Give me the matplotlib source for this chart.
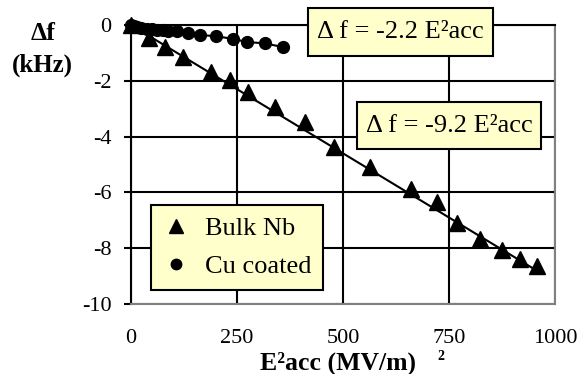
import matplotlib
matplotlib.use("Agg")
import matplotlib.pyplot as plt
from matplotlib.patches import Rectangle
from matplotlib.lines import Line2D
import numpy as np

plt.rcParams['font.family'] = ['Liberation Serif', 'DejaVu Serif']

# Bulk Nb data (E^2acc in (MV/m)^2, delta f in kHz)
nb_x = [0, 42, 80, 123, 189, 233, 276, 340, 410, 479, 564, 660, 722, 769, 823, 875, 917, 958]
nb_y = [0.0, -0.47, -0.79, -1.15, -1.69, -1.97, -2.41, -2.94, -3.48, -4.38, -5.10, -5.89,
        -6.36, -7.11, -7.68, -8.08, -8.37, -8.65]
# Cu coated data
cu_x = [0, 7, 14, 24, 38, 50, 61, 75, 87, 108, 134, 163, 200, 241, 274, 316, 358]
cu_y = [0.0, -0.05, -0.08, -0.10, -0.13, -0.15, -0.17, -0.19, -0.20, -0.22, -0.29, -0.36,
        -0.40, -0.50, -0.61, -0.66, -0.79]
# fit slopes (kHz per 1000 (MV/m)^2)
nb_slope = -9.2
cu_slope = -2.2

x_ticks = [0, 250, 500, 750, 1000]
y_ticks = [0, -2, -4, -6, -8, -10]

W, H = 578, 374
fig = plt.figure(figsize=(W / 100, H / 100), dpi=100)
ax = fig.add_axes([131 / W, 1 - 304 / H, (555 - 131) / W, (304 - 25) / H])

ax.set_xlim(0, 1000)
ax.set_ylim(-10, 0)
ax.set_xticks(x_ticks)
ax.set_yticks(y_ticks)
ax.set_xticklabels([str(v) for v in x_ticks], fontsize=16)
ax.set_yticklabels([str(v) for v in y_ticks], fontsize=16)
ax.tick_params(axis='x', length=0, pad=18)
ax.tick_params(axis='y', length=5, width=1.5, direction='out', pad=9)
ax.grid(True, color='black', linewidth=1.5, zorder=1)
ax.set_axisbelow(True)

for side in ['left', 'top']:
    ax.spines[side].set_color('black')
    ax.spines[side].set_linewidth(1.5)
for side in ['right', 'bottom']:
    ax.spines[side].set_color('#808080')
    ax.spines[side].set_linewidth(1.5)

# fit line for bulk Nb
fx = np.array([0, max(nb_x)])
ax.plot(fx, nb_slope * fx / 1000.0, color='black', linewidth=1.5, zorder=3)
ax.plot(nb_x, nb_y, linestyle='none', marker='^', markersize=11, color='black', zorder=4,
        clip_on=False)
ax.plot(cu_x, cu_y, linestyle='-', linewidth=1.5, marker='o', markersize=8.5, color='black',
        zorder=4, clip_on=False)


def px_box(x0, y0, x1, y1, text):
    r = Rectangle((x0 / W, 1 - y1 / H), (x1 - x0) / W, (y1 - y0) / H,
                  transform=fig.transFigure, facecolor='#FFFFCC', edgecolor='black',
                  linewidth=1.5, zorder=10)
    fig.add_artist(r)
    fig.text((x0 + x1) / 2 / W, 1 - (y0 + y1) / 2 / H, text, fontsize=19,
             ha='center', va='center', zorder=11)


px_box(308, 8, 493, 56, '\u0394 f = %.1f E\u00b2acc' % cu_slope)
px_box(357, 102, 541, 149, '\u0394 f = %.1f E\u00b2acc' % nb_slope)

handles = [Line2D([], [], linestyle='none', marker='^', markersize=10, color='black'),
           Line2D([], [], linestyle='none', marker='o', markersize=7.5, color='black')]
leg = ax.legend(handles, ['Bulk Nb', 'Cu coated'], loc='upper left',
                bbox_to_anchor=(151 / W, 1 - 205 / H),
                bbox_transform=fig.transFigure, fontsize=19, frameon=True,
                fancybox=False, framealpha=1, facecolor='#FFFFCC', edgecolor='black',
                handlelength=1.0, handletextpad=0.6, labelspacing=0.55, borderpad=0.45,
                borderaxespad=0)
leg.get_frame().set_linewidth(1.5)
leg.set_zorder(10)

fig.text(43 / W, 1 - 33 / H, '\u0394f', fontsize=18.5, fontweight='bold', ha='center', va='center')
fig.text(42 / W, 1 - 65 / H, '(kHz)', fontsize=18, fontweight='bold', ha='center', va='center')
fig.text(338 / W, 1 - 363 / H, 'E\u00b2acc (MV/m)', fontsize=18.5, fontweight='bold',
         ha='center', va='center')
fig.text(441 / W, 1 - 356 / H, '2', fontsize=10, fontweight='bold', ha='center', va='center')

fig.savefig('out.png', dpi=100)
